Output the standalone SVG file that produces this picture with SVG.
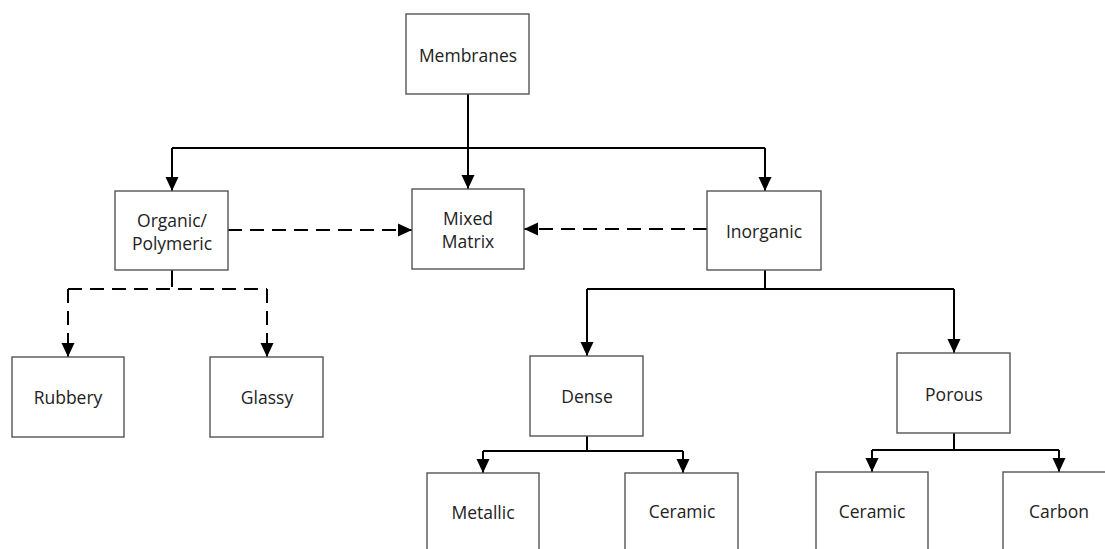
<svg xmlns="http://www.w3.org/2000/svg" width="1105" height="549" viewBox="0 0 1105 549">
<style>
.box{fill:#fff;stroke:#555;stroke-width:1.4}
.t{font-family:"Open Sans","Liberation Sans",sans-serif;font-size:17.5px;fill:#222;text-anchor:middle;dominant-baseline:central}
.c{fill:none;stroke:#000;stroke-width:2}
.d{stroke-dasharray:14 8}
</style>
<defs>
<marker id="a" markerUnits="userSpaceOnUse" markerWidth="16" markerHeight="16" viewBox="0 0 16 16" refX="15" refY="8" orient="auto">
<path d="M1,1.5 L15,8 L1,14.5 Z" fill="#000"/>
</marker>
</defs>
<rect width="1105" height="549" fill="#fff"/>
<g id="connectors">
<path class="c" d="M468,94 V148"/>
<path class="c" d="M172,148 H765"/>
<path class="c" d="M172,148 V191" marker-end="url(#a)"/>
<path class="c" d="M468,148 V189" marker-end="url(#a)"/>
<path class="c" d="M765,148 V191" marker-end="url(#a)"/>
<path class="c d" d="M228,230 H412" marker-end="url(#a)"/>
<path class="c d" d="M707,229 H524" marker-end="url(#a)"/>
<path class="c" d="M172,270 V287"/>
<path class="c d" d="M68,289 H267"/>
<path class="c d" d="M68,289 V357" marker-end="url(#a)"/>
<path class="c d" d="M267,289 V357" marker-end="url(#a)"/>
<path class="c" d="M765,270 V289"/>
<path class="c" d="M587,289 H954"/>
<path class="c" d="M587,289 V356" marker-end="url(#a)"/>
<path class="c" d="M954,289 V353" marker-end="url(#a)"/>
<path class="c" d="M587,436 V451"/>
<path class="c" d="M483,451 H683"/>
<path class="c" d="M483,451 V473" marker-end="url(#a)"/>
<path class="c" d="M683,451 V473" marker-end="url(#a)"/>
<path class="c" d="M954,433 V450"/>
<path class="c" d="M872,450 H1059"/>
<path class="c" d="M872,450 V472" marker-end="url(#a)"/>
<path class="c" d="M1059,450 V472" marker-end="url(#a)"/>
</g>
<g id="membranes"><rect class="box" x="406" y="14" width="123" height="80"/><text class="t" x="468" y="55">Membranes</text></g>
<g id="organic"><rect class="box" x="115" y="191" width="113" height="79"/><text class="t" x="172" y="220">Organic/</text><text class="t" x="172" y="243">Polymeric</text></g>
<g id="mixed"><rect class="box" x="412" y="189" width="112" height="80"/><text class="t" x="468" y="218">Mixed</text><text class="t" x="468" y="241">Matrix</text></g>
<g id="inorganic"><rect class="box" x="707" y="191" width="114" height="79"/><text class="t" x="764" y="231">Inorganic</text></g>
<g id="rubbery"><rect class="box" x="12" y="357" width="112" height="80"/><text class="t" x="68" y="397">Rubbery</text></g>
<g id="glassy"><rect class="box" x="210" y="357" width="113" height="80"/><text class="t" x="267" y="397">Glassy</text></g>
<g id="dense"><rect class="box" x="530" y="356" width="113" height="80"/><text class="t" x="587" y="396">Dense</text></g>
<g id="porous"><rect class="box" x="897" y="353" width="113" height="80"/><text class="t" x="954" y="394">Porous</text></g>
<g id="metallic"><rect class="box" x="427" y="473" width="112" height="90"/><text class="t" x="483" y="512">Metallic</text></g>
<g id="ceramic1"><rect class="box" x="625" y="473" width="113" height="90"/><text class="t" x="682" y="511">Ceramic</text></g>
<g id="ceramic2"><rect class="box" x="816" y="472" width="112" height="90"/><text class="t" x="872" y="511">Ceramic</text></g>
<g id="carbon"><rect class="box" x="1003" y="472" width="113" height="90"/><text class="t" x="1059" y="511">Carbon</text></g>
</svg>
